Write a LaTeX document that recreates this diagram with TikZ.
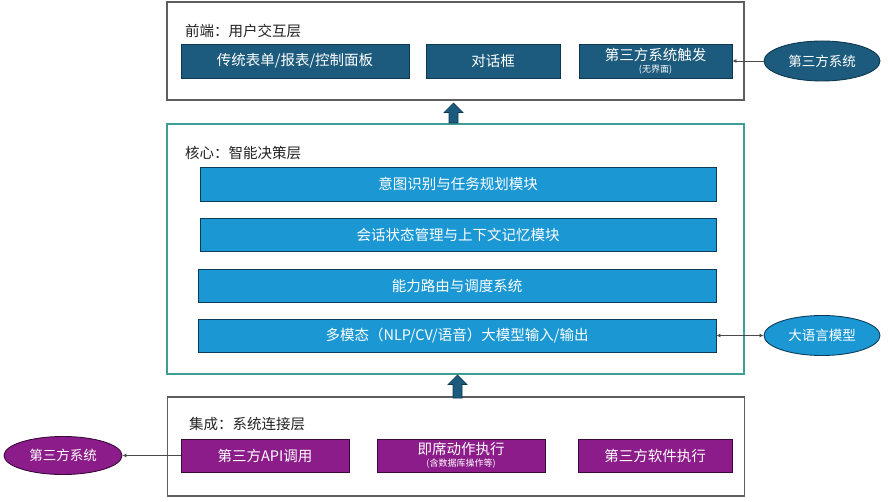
\documentclass[tikz,border=0pt]{standalone}
\usepackage{fontspec}
\setmainfont{Noto Sans CJK SC}
\usetikzlibrary{arrows.meta,shapes.geometric}

\definecolor{frontblue}{HTML}{1C5B7D}
\definecolor{frontline}{HTML}{0E3850}
\definecolor{coreblue}{HTML}{1B98D4}
\definecolor{coreline}{HTML}{0D3C5A}
\definecolor{integpurple}{HTML}{8C1C8A}
\definecolor{integline}{HTML}{3A0A3A}
\definecolor{framegray}{HTML}{5E5E5E}
\definecolor{frameteal}{HTML}{3E9E94}
\definecolor{linkgray}{HTML}{4A4A4A}
\definecolor{titlegray}{HTML}{222222}

\tikzset{
  layer/.style={draw=#1, line width=1.1pt, fill=white, minimum width=577pt, inner sep=0pt},
  layertitle/.style={anchor=west, inner sep=0pt, text=titlegray, font=\fontsize{14.5}{16}\selectfont},
  module/.style={draw=#1, line width=0.9pt, inner sep=0pt, text=white, align=center,
    font=\fontsize{14.5}{16}\selectfont},
  extsys/.style={ellipse, draw=#1, line width=0.9pt, inner sep=0pt, text=white,
    minimum width=116pt, minimum height=40pt, font=\fontsize{13.5}{15}\selectfont},
  link/.style={draw=linkgray, line width=0.8pt},
  blockup/.style={fill=frontblue, draw=frontline, line width=0.6pt}
}

\newcommand{\subnote}[1]{\\[-4pt]{\fontsize{9}{10}\selectfont #1}}

\begin{document}
\begin{tikzpicture}[x=1pt,y=-1pt]
  \useasboundingbox[fill=white] (0,0) rectangle (888,502);

  \node[layer=framegray, minimum height=98pt] (front) at (455.5,51) {};
  \node[layertitle] (fronttitle) at (185,31) {前端：用户交互层};
  \node[module=frontline, fill=frontblue, minimum width=228pt, minimum height=34pt] (forms) at (295,61) {传统表单/报表/控制面板};
  \node[module=frontline, fill=frontblue, minimum width=134pt, minimum height=34pt] (dialog) at (493,61) {对话框};
  \node[module=frontline, fill=frontblue, minimum width=153pt, minimum height=34pt] (trigger) at (655.5,61) {第三方系统触发\subnote{(无界面)}};
  \node[extsys=frontline, fill=frontblue] (extin) at (822,61) {第三方系统};

  \node[layer=frameteal, minimum height=250pt] (core) at (455.5,249) {};
  \node[layertitle] (coretitle) at (185,153) {核心：智能决策层};
  \node[module=coreline, fill=coreblue, minimum width=516pt, minimum height=34pt] (intent) at (458,184) {意图识别与任务规划模块};
  \node[module=coreline, fill=coreblue, minimum width=516pt, minimum height=33pt] (memory) at (458,234.5) {会话状态管理与上下文记忆模块};
  \node[module=coreline, fill=coreblue, minimum width=518pt, minimum height=33pt] (routing) at (457,285.5) {能力路由与调度系统};
  \node[module=coreline, fill=coreblue, minimum width=518pt, minimum height=33pt] (modal) at (457,335.5) {多模态（NLP/CV/语音）大模型输入/输出};
  \node[extsys=coreline, fill=coreblue] (llm) at (822,335.5) {大语言模型};

  \node[layer=framegray, minimum height=99pt] (integ) at (456,446.5) {};
  \node[layertitle] (integtitle) at (189,424) {集成：系统连接层};
  \node[module=integline, fill=integpurple, minimum width=168pt, minimum height=33pt] (api) at (265,455.5) {第三方API调用};
  \node[module=integline, fill=integpurple, minimum width=168pt, minimum height=33pt] (adhoc) at (461,455.5) {即席动作执行\subnote{(含数据库操作等)}};
  \node[module=integline, fill=integpurple, minimum width=154pt, minimum height=33pt] (software) at (655,455.5) {第三方软件执行};
  \node[extsys=integline, fill=integpurple, minimum width=118pt, minimum height=38pt] (extout) at (63,455.5) {第三方系统};

  \draw[link, -{Latex[length=4pt,width=4pt]}] (extin) -- (trigger);
  \draw[link, {Latex[length=4pt,width=4pt]}-{Latex[length=4pt,width=4pt]}] (modal) -- (llm);
  \draw[link, -{Latex[length=4pt,width=4pt]}] (api) -- (extout);

  \foreach \x/\tip/\base in {453.5/103/123, 457.5/375/398}
    \filldraw[blockup] (\x,\tip) -- ++(9.5,9.5) -- ++(-5,0) -- (\x+4.5,\base)
      -- (\x-4.5,\base) -- (\x-4.5,\tip+9.5) -- ++(-5,0) -- cycle;
\end{tikzpicture}
\end{document}
